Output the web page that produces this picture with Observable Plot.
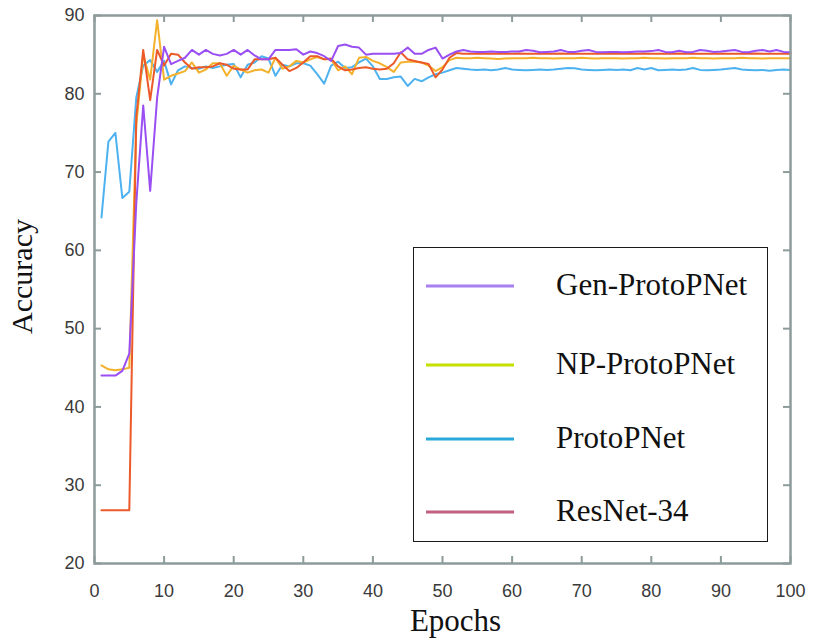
<!DOCTYPE html>
<html><head><meta charset="utf-8">
<script src="https://cdn.jsdelivr.net/npm/d3@7"></script>
<script src="https://cdn.jsdelivr.net/npm/@observablehq/plot@0.6"></script>
<style>
body{margin:0;background:#fff;}
#wrap{position:relative;width:813px;height:639px;overflow:hidden;}
#legend{position:absolute;left:413px;top:247px;width:353px;height:293px;border:1.6px solid #1a1a1a;background:#fff;font-family:"Liberation Serif","Times New Roman",serif;font-size:31px;color:#111;}
.item{position:absolute;left:0;height:40px;}
.item svg{position:absolute;left:0;top:0;}
.item span{position:absolute;left:142px;top:50%;transform:translateY(-52%);white-space:nowrap;}
</style></head><body><div id="wrap"><div id="legend"></div></div>
<script>
// ---- data ----
const epochs = d3.range(1, 101);
const xTicks = [0, 10, 20, 30, 40, 50, 60, 70, 80, 90, 100];
const yTicks = [20, 30, 40, 50, 60, 70, 80, 90];
const seriesNames = ["Gen-ProtoPNet", "NP-ProtoPNet", "ProtoPNet", "ResNet-34"];

const genProtoPNet = [
  44.0, 44.0, 44.0, 44.6, 46.8, 66.0, 78.5, 67.6, 79.5, 86.0,
  83.8, 84.2, 84.6, 85.6, 85.0, 85.6, 85.1, 84.9, 85.1, 85.6,
  85.0, 85.6, 84.9, 84.4, 84.4, 85.6, 85.6, 85.6, 85.7, 85.0,
  85.4, 85.2, 84.8, 84.2, 86.1, 86.3, 86.0, 85.9, 85.0, 85.1,
  85.1, 85.1, 85.1, 85.2, 85.9, 85.1, 85.1, 85.6, 85.9, 84.5,
  85.0, 85.4, 85.6, 85.4, 85.35, 85.35, 85.4, 85.35, 85.35, 85.4,
  85.4, 85.6, 85.5, 85.3, 85.35, 85.4, 85.6, 85.35, 85.35, 85.5,
  85.6, 85.35, 85.3, 85.35, 85.35, 85.3, 85.35, 85.4, 85.4, 85.45,
  85.6, 85.35, 85.3, 85.5, 85.3, 85.35, 85.6, 85.5, 85.35, 85.4,
  85.5, 85.6, 85.35, 85.3, 85.5, 85.6, 85.4, 85.6, 85.35, 85.3
];
const npProtoPNet = [
  45.3, 44.8, 44.7, 44.8, 45.0, 76.0, 85.0, 81.8, 89.4, 81.8,
  82.3, 82.6, 82.9, 84.0, 82.7, 83.1, 83.9, 83.9, 82.3, 83.6,
  83.1, 82.7, 83.0, 83.1, 82.7, 84.6, 83.2, 83.5, 84.2, 84.0,
  84.4, 84.7, 84.4, 84.4, 83.0, 83.5, 82.5, 84.6, 84.7, 84.2,
  83.9, 83.4, 82.8, 84.0, 84.1, 84.1, 84.0, 83.6, 82.9, 83.4,
  84.3, 84.6, 84.55, 84.55, 84.6, 84.55, 84.5, 84.45, 84.5, 84.55,
  84.55, 84.55, 84.6, 84.55, 84.55, 84.5, 84.55, 84.55, 84.55, 84.6,
  84.55, 84.5, 84.55, 84.55, 84.55, 84.5, 84.55, 84.55, 84.6, 84.55,
  84.55, 84.5, 84.55, 84.55, 84.55, 84.6, 84.55, 84.55, 84.5, 84.55,
  84.55, 84.55, 84.6, 84.55, 84.55, 84.5, 84.55, 84.55, 84.55, 84.55
];
const protoPNet = [
  64.2, 73.9, 75.0, 66.7, 67.5, 79.5, 83.6, 84.3, 82.8, 84.2,
  81.2, 83.0, 83.5, 83.3, 83.2, 83.5, 83.3, 83.5, 83.7, 83.8,
  82.1, 83.7, 84.0, 84.8, 84.5, 82.3, 83.7, 83.5, 83.9, 83.9,
  83.6, 82.5, 81.3, 83.6, 84.1, 83.3, 83.4, 84.0, 84.5, 83.5,
  81.9, 81.9, 82.1, 82.2, 81.0, 81.9, 81.6, 82.1, 82.5, 82.7,
  83.0, 83.3, 83.2, 83.1, 83.05, 83.1, 83.0, 83.1, 83.3, 83.1,
  83.05, 83.0, 83.05, 83.1, 83.05, 83.1, 83.2, 83.3, 83.25, 83.1,
  83.05, 83.0, 83.05, 83.1, 83.05, 83.1, 83.0, 83.3, 83.1, 83.3,
  83.0, 83.05, 83.1, 83.05, 83.1, 83.3, 83.05, 83.0, 83.05, 83.1,
  83.2, 83.3, 83.1, 83.05, 83.0, 83.05, 82.95, 83.05, 83.1, 83.05
];
const resNet34 = [
  26.8, 26.8, 26.8, 26.8, 26.8, 77.0, 85.6, 79.2, 85.6, 83.6,
  85.1, 85.0, 84.0, 83.2, 83.4, 83.4, 83.5, 83.9, 83.7, 83.2,
  83.1, 83.1, 84.4, 84.4, 84.4, 84.6, 83.7, 82.9, 83.3, 84.0,
  84.8, 84.8, 84.4, 84.5, 83.5, 83.0, 83.1, 83.3, 83.4, 83.2,
  83.1, 83.2, 83.9, 85.3, 84.4, 84.2, 84.0, 83.8, 82.1, 83.1,
  84.6, 85.2, 85.1, 85.1, 85.1, 85.15, 85.1, 85.1, 85.1, 85.1,
  85.15, 85.1, 85.1, 85.1, 85.1, 85.1, 85.15, 85.1, 85.1, 85.1,
  85.1, 85.1, 85.15, 85.1, 85.1, 85.1, 85.1, 85.1, 85.15, 85.1,
  85.1, 85.1, 85.1, 85.15, 85.1, 85.1, 85.1, 85.1, 85.1, 85.15,
  85.1, 85.1, 85.1, 85.1, 85.15, 85.1, 85.1, 85.1, 85.1, 85.1
];

// ---- styles ----
const lineColors = {"Gen-ProtoPNet": "#9a4ff2", "NP-ProtoPNet": "#f3b12c", "ProtoPNet": "#4db2ef", "ResNet-34": "#ec5a2a"};
const legendColors = {"Gen-ProtoPNet": "#a880ef", "NP-ProtoPNet": "#c6e000", "ProtoPNet": "#2aa8da", "ResNet-34": "#c0617f"};
const frameColor = "#8d9b9b";

const seriesValues = {"Gen-ProtoPNet": genProtoPNet, "NP-ProtoPNet": npProtoPNet, "ProtoPNet": protoPNet, "ResNet-34": resNet34};
const toRows = name => seriesValues[name].map((v, i) => ({epoch: epochs[i], acc: v, model: name}));

const W = 813, H = 639, mL = 94, mR = 23, mT = 15, mB = 76;
const plotW = W - mL - mR, plotH = H - mT - mB;
const tickLen = 7;

const drawOrder = ["ProtoPNet", "NP-ProtoPNet", "ResNet-34", "Gen-ProtoPNet"];

const chart = Plot.plot({
  width: W, height: H,
  marginLeft: mL, marginRight: mR, marginTop: mT, marginBottom: mB,
  x: {domain: [0, 100]},
  y: {domain: [20, 90]},
  style: {background: "#fff", fontFamily: "'Liberation Sans Narrow','Liberation Sans',Arial,sans-serif", fontSize: "18px", color: "#333"},
  marks: [
    Plot.axisX(xTicks, {tickSize: 0, tickPadding: 21, label: null, fill: "#3a3a3a", fontSize: 18}),
    Plot.axisY(yTicks, {tickSize: 0, tickPadding: 10, label: null, fill: "#3a3a3a", fontSize: 18}),
    ...drawOrder.map(name => Plot.line(toRows(name), {x: "epoch", y: "acc", stroke: lineColors[name], strokeWidth: 2, strokeLinejoin: "round"})),
    Plot.tickX(xTicks, {x: d => d, insetTop: plotH - tickLen, stroke: frameColor, strokeWidth: 2}),
    Plot.tickX(xTicks, {x: d => d, insetBottom: plotH - tickLen, stroke: frameColor, strokeWidth: 2}),
    Plot.tickY(yTicks, {y: d => d, insetRight: plotW - tickLen, stroke: frameColor, strokeWidth: 2}),
    Plot.tickY(yTicks, {y: d => d, insetLeft: plotW - tickLen, stroke: frameColor, strokeWidth: 2}),
    Plot.frame({stroke: frameColor, strokeWidth: 2.5}),
    Plot.text(["Epochs"], {frameAnchor: "bottom", textAnchor: "middle", dy: 67, dx: 13, fontSize: 31, fontFamily: "'Liberation Serif','Times New Roman',serif", fill: "#111"}),
    Plot.text(["Accuracy"], {frameAnchor: "left", textAnchor: "middle", rotate: -90, dx: -72, dy: -13, fontSize: 30, fontFamily: "'Liberation Serif','Times New Roman',serif", fill: "#111"})
  ]
});
document.getElementById("wrap").prepend(chart);

// ---- legend ----
const legend = document.getElementById("legend");
const itemCenters = [38, 117, 191, 264];
seriesNames.forEach((name, i) => {
  const item = document.createElement("div");
  item.className = "item";
  item.style.top = (itemCenters[i] - 20) + "px";
  item.style.width = "353px";
  item.innerHTML = `<svg width="120" height="40"><line x1="12" x2="100" y1="20" y2="20" stroke="${legendColors[name]}" stroke-width="3"/></svg><span>${name}</span>`;
  legend.appendChild(item);
});
</script></body></html>
